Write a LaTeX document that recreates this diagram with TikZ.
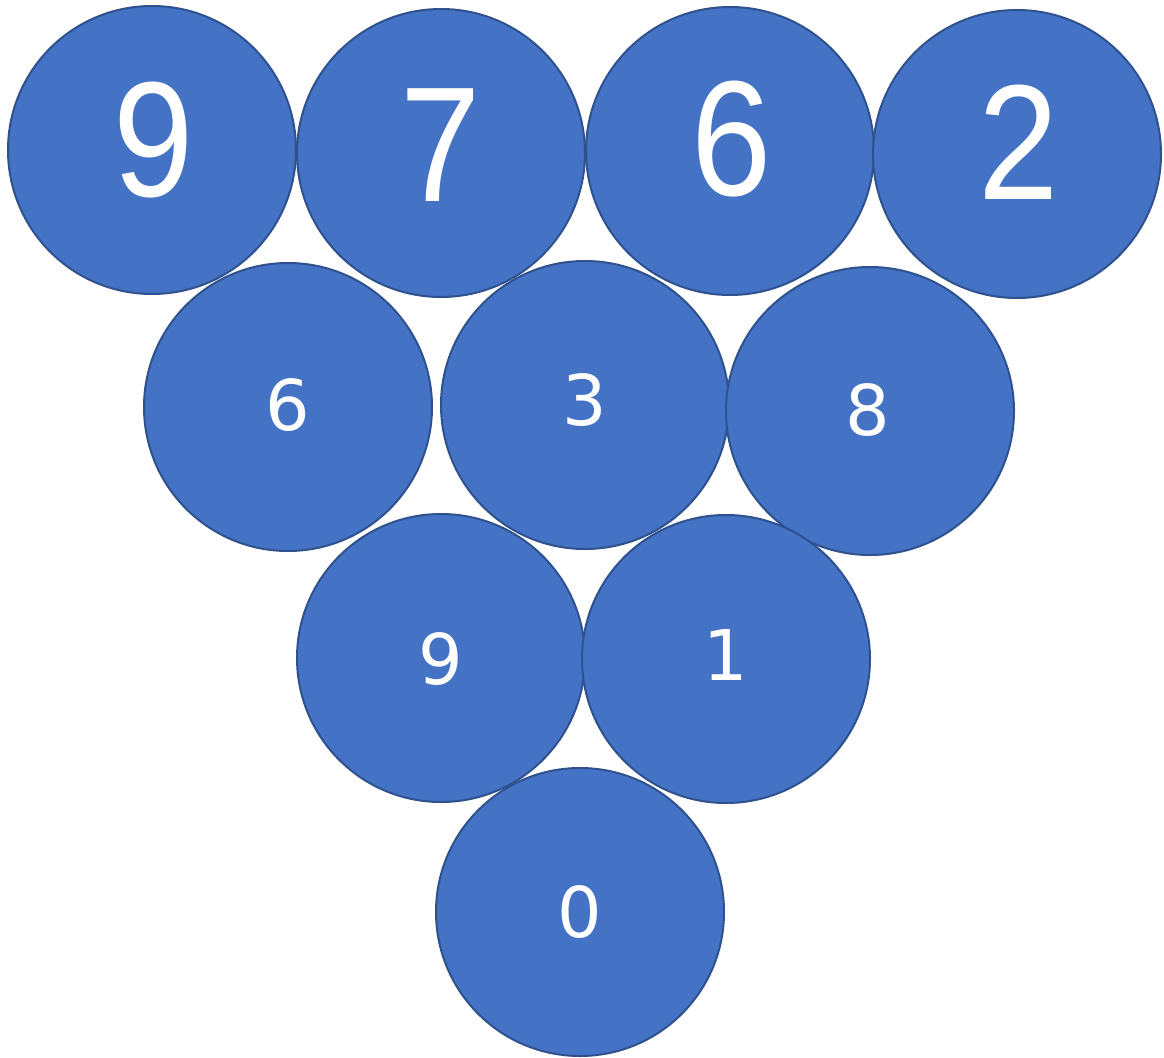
\documentclass[tikz,border=0pt]{standalone}
\usepackage{fontspec}
\usepackage{graphicx}
\setmainfont{Liberation Sans}
\newfontfamily\smallfont{DejaVu Sans}
\definecolor{ballfill}{HTML}{4472C4}
\definecolor{ballline}{HTML}{2F528F}
\newcommand{\narrowdigit}[1]{\scalebox{0.88}[1]{#1}}
\begin{document}
\begin{tikzpicture}[x=1pt,y=-1pt,
  ball/.style={circle,draw=ballline,fill=ballfill,line width=2pt,inner sep=0pt,minimum size=288pt},
  bignum/.style={text=white,inner sep=0pt,font=\fontsize{164}{180}\selectfont},
  smallnum/.style={text=white,inner sep=0pt,font=\smallfont\fontsize{70}{80}\selectfont}]
\useasboundingbox (0,0) rectangle (1164,1057);
% row 1
\node[ball] (b1) at (152,150) {};
\node[ball] (b2) at (441,153) {};
\node[ball] (b3) at (730,151) {};
\node[ball] (b4) at (1017,154) {};
% row 2
\node[ball] (b5) at (288,407) {};
\node[ball] (b6) at (585,405) {};
\node[ball] (b7) at (870,411) {};
% row 3
\node[ball] (b8) at (441,658) {};
\node[ball] (b9) at (726,659) {};
% row 4
\node[ball] (b10) at (580,912) {};
% labels
\node[bignum] (t1) at (154,140) {\narrowdigit{9}};
\node[bignum] (t2) at (441,145) {\narrowdigit{7}};
\node[bignum] (t3) at (732,139) {\narrowdigit{6}};
\node[bignum] (t4) at (1019,142) {\narrowdigit{2}};
\node[smallnum] (t5) at (288,405) {6};
\node[smallnum] (t6) at (585,400) {3};
\node[smallnum] (t7) at (868,410) {8};
\node[smallnum] (t8) at (441,659) {9};
\node[smallnum] (t9) at (726,655) {1};
\node[smallnum] (t10) at (580,912) {0};
\end{tikzpicture}
\end{document}
